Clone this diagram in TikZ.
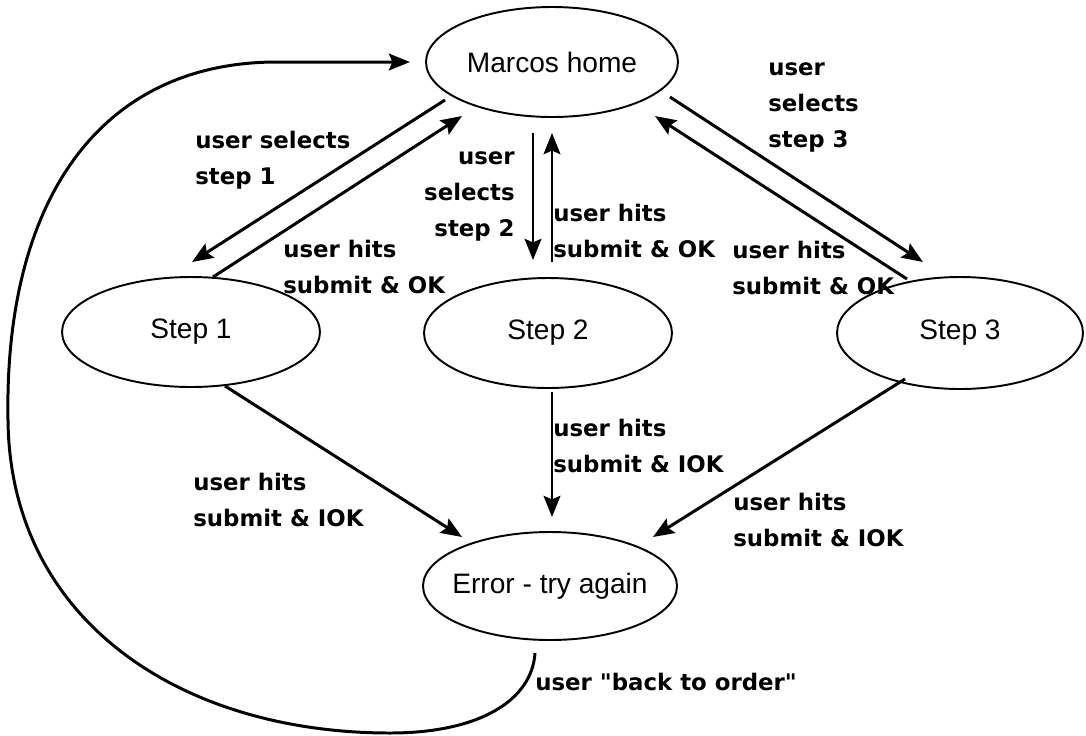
\documentclass[tikz,border=0pt]{standalone}
\usepackage{fontspec}
\setmainfont{Liberation Sans}
\newfontfamily\lblfont{DejaVu Sans}
\usetikzlibrary{shapes.geometric,arrows.meta,calc}
\begin{document}
\begin{tikzpicture}[x=0.02cm,y=-0.02cm,
  state/.style={draw, ellipse, line width=1.1pt, inner sep=0pt,
    label={[font=\fontsize{16}{19}\selectfont]center:#1}},
  conn/.style={draw, line width=1.7pt, -{Stealth[length=12pt,width=9.5pt,inset=2pt]}},
  lbl/.style={inner sep=0pt, font=\lblfont\bfseries\fontsize{13}{20.5}\selectfont, align=left}]
\useasboundingbox (0,0) rectangle (1086,735);

% states
\node[state=Marcos home, minimum width=5.04cm, minimum height=2.2cm] (M) at (552,62) {};
\node[state=Step 1, minimum width=5.16cm, minimum height=2.2cm] (S1) at (191,332) {};
\node[state=Step 2, minimum width=4.96cm, minimum height=2.2cm] (S2) at (548,333) {};
\node[state=Step 3, minimum width=4.92cm, minimum height=2.24cm] (S3) at (960,333) {};
\node[state=Error - try again, minimum width=5.08cm, minimum height=2.16cm] (E) at (550,586) {};

% connectors between home and steps
\draw[conn] ($(M.center)+(-107,38)$) -- ($(S1.center)+(1,-70)$);
\draw[conn] ($(S1.center)+(22,-55)$) -- ($(M.center)+(-90,54)$);
\draw[conn] ($(M.center)+(-19,71)$) -- ($(S2.center)+(-15,-73)$);
\draw[conn] ($(S2.center)+(4,-71)$) -- ($(M.center)+(0,71)$);
\draw[conn] ($(M.center)+(118,35)$) -- ($(S3.center)+(-37,-71)$);
\draw[conn] ($(S3.center)+(-53,-54)$) -- ($(M.center)+(103,54)$);

% connectors to error
\draw[conn] ($(S1.center)+(34,54)$) -- ($(E.center)+(-88,-49)$);
\draw[conn] ($(S2.center)+(4,59)$) -- ($(E.center)+(2,-69)$);
\draw[conn] ($(S3.center)+(-55,46)$) -- ($(E.center)+(103,-49)$);

% return loop
\coordinate (r1) at (390,733);
\coordinate (r2) at (8,420);
\coordinate (r3) at (277,62);
\draw[conn] ($(E.center)+(-15,67)$) .. controls (532,700) and (480,733) .. (r1)
  .. controls (180,733) and (10,620) .. (r2)
  .. controls (4,200) and (100,62) .. (r3)
  -- ($(M.center)+(-142,0)$);

% labels
\node[lbl, anchor=west] (l1) at (195,160) {user selects\\step 1};
\node[lbl, anchor=west] (l2) at (283,267) {user hits\\submit \& OK};
\node[lbl, anchor=east, align=right] (l3) at (515,196) {user\\selects\\step 2};
\node[lbl, anchor=west] (l4) at (553,231) {user hits\\submit \& OK};
\node[lbl, anchor=west] (l5) at (768,107) {user\\selects\\step 3};
\node[lbl, anchor=west] (l6) at (732,268) {user hits\\submit \& OK};
\node[lbl, anchor=west] (l7) at (193,500) {user hits\\submit \& IOK};
\node[lbl, anchor=west] (l8) at (553,446) {user hits\\submit \& IOK};
\node[lbl, anchor=west] (l9) at (733,520) {user hits\\submit \& IOK};
\node[lbl, anchor=west] (l10) at (535,682) {user "back to order"};
\end{tikzpicture}
\end{document}
